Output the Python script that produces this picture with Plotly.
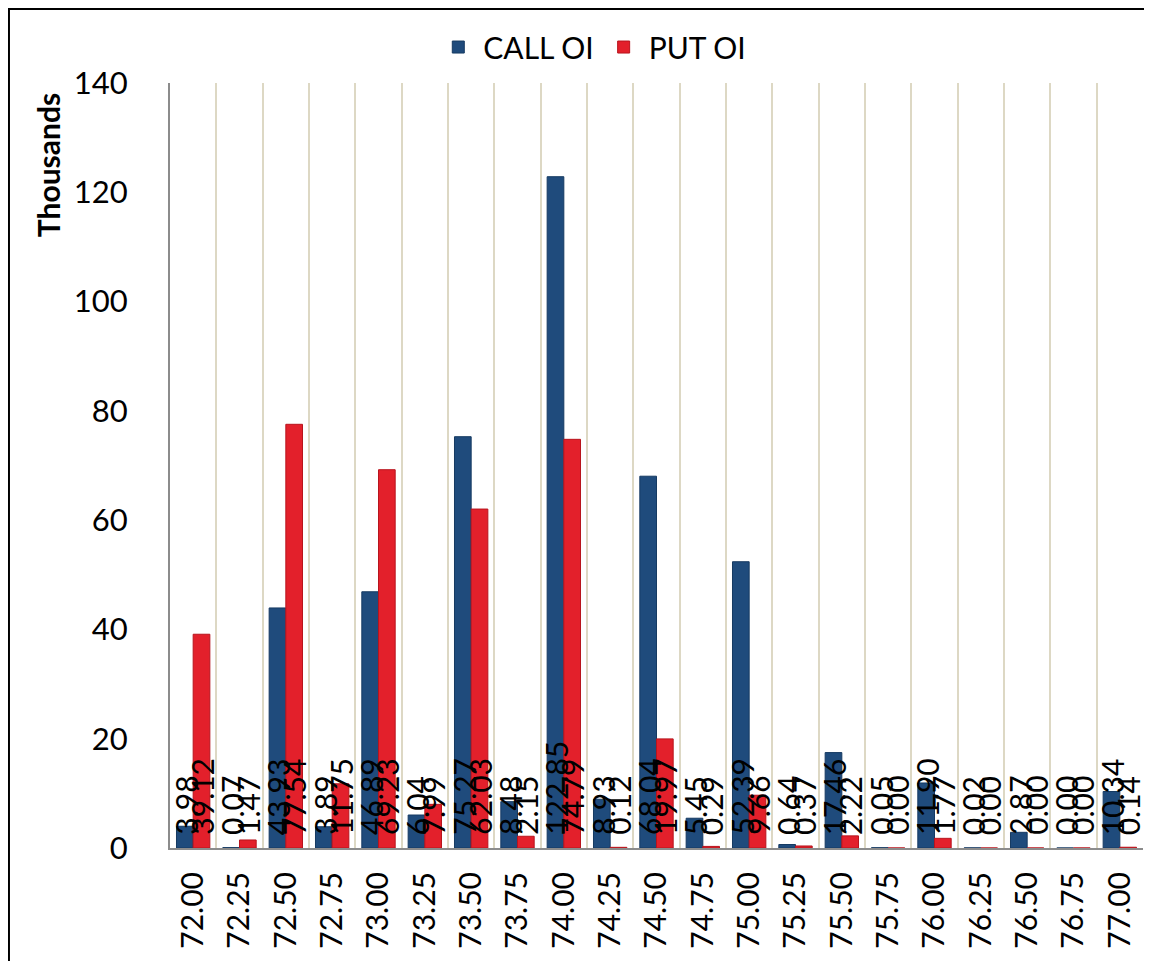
import plotly.graph_objects as go

strikes = ["72.00", "72.25", "72.50", "72.75", "73.00", "73.25", "73.50", "73.75",
           "74.00", "74.25", "74.50", "74.75", "75.00", "75.25", "75.50", "75.75",
           "76.00", "76.25", "76.50", "76.75", "77.00"]
call_oi = [3.98, 0.07, 43.93, 3.89, 46.89, 6.04, 75.27, 8.48, 122.85, 8.93, 68.04,
           5.45, 52.39, 0.64, 17.46, 0.05, 11.90, 0.02, 2.87, 0.00, 10.34]
put_oi = [39.12, 1.47, 77.54, 11.75, 69.23, 7.99, 62.03, 2.15, 74.79, 0.12, 19.97,
          0.29, 9.66, 0.37, 2.22, 0.00, 1.77, 0.00, 0.00, 0.00, 0.14]

FONT = "Lato"
fig = go.Figure()
fig.add_trace(go.Bar(x=strikes, y=call_oi, name="CALL OI",
                     marker=dict(color="#1f4b7c", line=dict(color="#163a62", width=1))))
fig.add_trace(go.Bar(x=strikes, y=put_oi, name="PUT OI",
                     marker=dict(color="#e3202b", line=dict(color="#b8141d", width=1))))

annotations = []
for i, (c, p) in enumerate(zip(call_oi, put_oi)):
    for v, shift in ((c, -8), (p, 8)):
        annotations.append(dict(x=i, y=0, xref="x", yref="y", text=f"{v:.2f}",
                                textangle=-90, showarrow=False, xshift=shift, yshift=11,
                                xanchor="center", yanchor="bottom",
                                font=dict(family=FONT, size=30, color="black")))
annotations.append(dict(x=-0.126, y=0.893, xref="paper", yref="paper",
                        text="<b>Thousands</b>", textangle=-90, showarrow=False,
                        xanchor="center", yanchor="middle",
                        font=dict(family=FONT, size=30, color="black")))

fig.update_layout(
    width=1152, height=961,
    margin=dict(l=162, r=17, t=75, b=121),
    paper_bgcolor="white", plot_bgcolor="white",
    barmode="group", bargap=0.28, bargroupgap=0.0,
    font=dict(family=FONT, size=30, color="black"),
    legend=dict(orientation="h", x=0.434, y=1.047, xanchor="center", yanchor="middle",
                font=dict(family=FONT, size=30), itemwidth=40, bgcolor="rgba(0,0,0,0)"),
    annotations=annotations,
    shapes=[dict(type="rect", xref="paper", yref="paper", x0=-0.1655, x1=1.2,
                 y0=-0.3, y1=1.0967, line=dict(color="black", width=2), layer="above")],
)
fig.update_xaxes(type="category", range=[-0.5, len(strikes) - 0.5], tickson="boundaries",
                 showgrid=True, gridcolor="#ddd8c4",
                 gridwidth=2, showline=True, linecolor="#8c8c8c", linewidth=2,
                 ticks="", tickangle=-90, ticklabelstandoff=10,
                 tickfont=dict(family=FONT, size=30))
fig.update_yaxes(range=[0, 140], dtick=20, showgrid=False, showline=True,
                 linecolor="#8c8c8c", linewidth=2, ticks="", zeroline=False,
                 tickfont=dict(family=FONT, size=31), ticklabelstandoff=34)
fig.write_html("out.html")
